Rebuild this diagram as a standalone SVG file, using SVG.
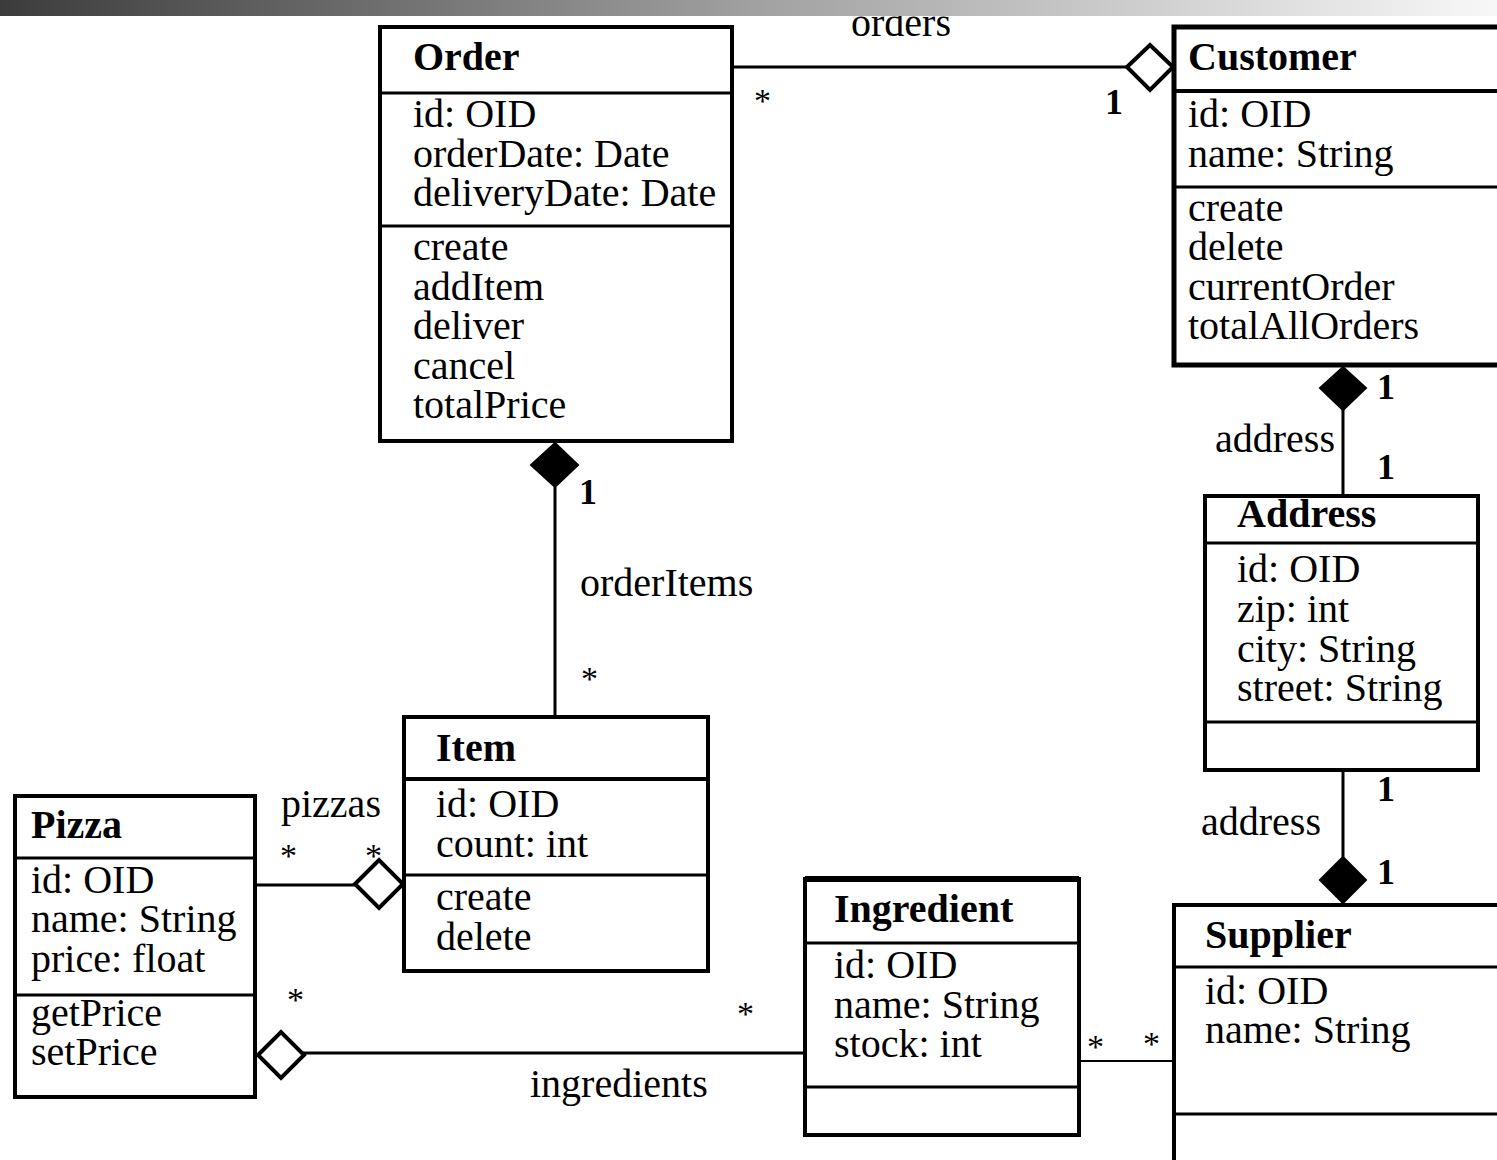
<svg xmlns="http://www.w3.org/2000/svg" width="1497" height="1160" viewBox="0 0 1497 1160">
<defs>
<linearGradient id="bar" x1="0" y1="0" x2="1" y2="0">
<stop offset="0" stop-color="#3c3c3c"/>
<stop offset="0.5" stop-color="#a0a0a0"/>
<stop offset="1" stop-color="#f8f8f8"/>
</linearGradient>
<style>
.box{fill:#fff;stroke:#000;stroke-width:4}
.sep{stroke:#000;stroke-width:3}
.t{font-family:"Liberation Serif","Times New Roman",serif;font-size:40px;fill:#000}
.b{font-family:"Liberation Serif","Times New Roman",serif;font-size:40px;font-weight:bold;fill:#000}
.m{font-family:"Liberation Serif","Times New Roman",serif;font-size:36px;font-weight:bold;fill:#000}
.s{font-family:"Liberation Serif","Times New Roman",serif;font-size:34px;fill:#000}
.ln{stroke:#000;stroke-width:3;fill:none}
.hd{fill:#fff;stroke:#000;stroke-width:4}
.fd{fill:#000;stroke:#000;stroke-width:2}
</style>
</defs>
<rect width="1497" height="1160" fill="#fff"/>

<g id="connectors">
<line class="ln" x1="732" y1="67" x2="1127" y2="67"/>
<polygon class="hd" points="1127,67 1150,45 1173,67 1150,90"/>
<line class="ln" x1="555" y1="487" x2="555" y2="717"/>
<polygon class="fd" points="555,443 578,465 555,487 531,465"/>
<line class="ln" x1="1343" y1="410" x2="1343" y2="496"/>
<polygon class="fd" points="1343,367 1366,388 1343,410 1320,388"/>
<line class="ln" x1="1343" y1="770" x2="1343" y2="857"/>
<polygon class="fd" points="1343,857 1366,880 1343,903 1320,880"/>
<line class="ln" x1="255" y1="885" x2="355" y2="885"/>
<polygon class="hd" points="355,884 379,860 403,884 379,908"/>
<line class="ln" x1="302" y1="1053" x2="805" y2="1053"/>
<polygon class="hd" points="258,1055 281,1032 304,1055 281,1078"/>
<line class="ln" x1="1079" y1="1061" x2="1174" y2="1061" style="stroke-width:2"/>
<text class="t" x="851" y="36">orders</text>
<text class="s" x="754" y="112">*</text>
<text class="m" x="1105" y="114">1</text>
<text class="m" x="579" y="504">1</text>
<text class="t" x="580" y="596">orderItems</text>
<text class="s" x="581" y="690">*</text>
<text class="m" x="1377" y="399">1</text>
<text class="t" x="1215" y="452">address</text>
<text class="m" x="1377" y="479">1</text>
<text class="m" x="1377" y="801">1</text>
<text class="t" x="1201" y="835">address</text>
<text class="m" x="1377" y="884">1</text>
<text class="t" x="281" y="817">pizzas</text>
<text class="s" x="280" y="867">*</text>
<text class="s" x="365" y="867">*</text>
<text class="s" x="287" y="1011">*</text>
<text class="s" x="737" y="1025">*</text>
<text class="t" x="530" y="1097">ingredients</text>
<text class="s" x="1087" y="1058">*</text>
<text class="s" x="1143" y="1055">*</text>
</g>

<g id="order">
<rect class="box" x="380" y="27" width="352" height="414"/>
<line class="sep" x1="380" y1="93" x2="732" y2="93"/>
<line class="sep" x1="380" y1="226" x2="732" y2="226"/>
<text class="b" x="413" y="70">Order</text>
<text class="t" x="413" y="127">id: OID</text>
<text class="t" x="413" y="167">orderDate: Date</text>
<text class="t" x="413" y="206">deliveryDate: Date</text>
<text class="t" x="413" y="260">create</text>
<text class="t" x="413" y="300">addItem</text>
<text class="t" x="413" y="339">deliver</text>
<text class="t" x="413" y="379">cancel</text>
<text class="t" x="413" y="418">totalPrice</text>
</g>

<g id="customer">
<rect class="box" x="1174" y="27" width="340" height="338" style="stroke-width:5"/>
<line class="sep" x1="1174" y1="91" x2="1497" y2="91" style="stroke-width:4"/>
<line class="sep" x1="1174" y1="187" x2="1497" y2="187"/>
<text class="b" x="1188" y="70">Customer</text>
<text class="t" x="1188" y="127">id: OID</text>
<text class="t" x="1188" y="167">name: String</text>
<text class="t" x="1188" y="221">create</text>
<text class="t" x="1188" y="260">delete</text>
<text class="t" x="1188" y="300">currentOrder</text>
<text class="t" x="1188" y="339">totalAllOrders</text>
</g>

<g id="address">
<rect class="box" x="1205" y="496" width="273" height="274"/>
<line class="sep" x1="1205" y1="543" x2="1478" y2="543"/>
<line class="sep" x1="1205" y1="722" x2="1478" y2="722"/>
<text class="b" x="1237" y="527">Address</text>
<text class="t" x="1237" y="582">id: OID</text>
<text class="t" x="1237" y="622">zip: int</text>
<text class="t" x="1237" y="662">city: String</text>
<text class="t" x="1237" y="701">street: String</text>
</g>

<g id="item">
<rect class="box" x="404" y="717" width="304" height="254"/>
<line class="sep" x1="404" y1="779" x2="708" y2="779" style="stroke-width:4"/>
<line class="sep" x1="404" y1="875" x2="708" y2="875"/>
<text class="b" x="436" y="761">Item</text>
<text class="t" x="436" y="817">id: OID</text>
<text class="t" x="436" y="857">count: int</text>
<text class="t" x="436" y="910">create</text>
<text class="t" x="436" y="950">delete</text>
</g>

<g id="pizza">
<rect class="box" x="15" y="796" width="240" height="301"/>
<line class="sep" x1="15" y1="858" x2="255" y2="858"/>
<line class="sep" x1="15" y1="995" x2="255" y2="995"/>
<text class="b" x="31" y="838">Pizza</text>
<text class="t" x="31" y="893">id: OID</text>
<text class="t" x="31" y="932">name: String</text>
<text class="t" x="31" y="972">price: float</text>
<text class="t" x="31" y="1026">getPrice</text>
<text class="t" x="31" y="1065">setPrice</text>
</g>

<g id="ingredient">
<rect class="box" x="805" y="879" width="274" height="256"/>
<line class="sep" x1="805" y1="879" x2="1079" y2="879" style="stroke-width:6"/>
<line class="sep" x1="805" y1="943" x2="1079" y2="943"/>
<line class="sep" x1="805" y1="1087" x2="1079" y2="1087"/>
<text class="b" x="834" y="922">Ingredient</text>
<text class="t" x="834" y="978">id: OID</text>
<text class="t" x="834" y="1018">name: String</text>
<text class="t" x="834" y="1057">stock: int</text>
</g>

<g id="supplier">
<rect class="box" x="1174" y="905" width="340" height="270"/>
<line class="sep" x1="1174" y1="967" x2="1497" y2="967"/>
<line class="sep" x1="1174" y1="1114" x2="1497" y2="1114"/>
<text class="b" x="1205" y="948">Supplier</text>
<text class="t" x="1205" y="1004">id: OID</text>
<text class="t" x="1205" y="1043">name: String</text>
</g>

<rect x="0" y="0" width="1497" height="16" fill="url(#bar)"/>
</svg>
